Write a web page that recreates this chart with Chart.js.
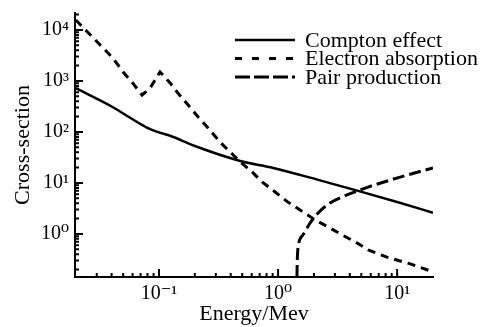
<!DOCTYPE html>
<html>
<head>
<meta charset="utf-8">
<script src="https://cdn.jsdelivr.net/npm/chart.js@4/dist/chart.umd.min.js"></script>
<style>
  html, body { margin: 0; padding: 0; background: #fff; }
  #wrap { width: 481px; height: 327px; }
</style>
</head>
<body>
<div id="wrap"><canvas id="myChart"></canvas></div>
<script>
// data (energy in MeV, cross-section)
var comptonE = [0.02, 0.041, 0.06, 0.079, 0.1, 0.124, 0.2, 0.48, 0.91, 2.17, 4.7, 10, 20];
var comptonV = [720, 305, 177, 122, 98, 84, 53, 27, 19.7, 11.5, 7, 4.24, 2.6];

var electronE = [0.02, 0.041, 0.05, 0.06, 0.072, 0.084, 0.102, 0.124, 0.144, 0.175, 0.213, 0.258, 0.326, 0.395, 0.48, 0.605, 0.734, 0.94, 1.21, 1.53, 2.05, 2.63, 3.45, 4.44, 5.7, 8.2, 12.9, 20];
var electronV = [15700, 2810, 1500, 915, 530, 720, 1500, 915, 580, 340, 197, 120, 63, 40.6, 26, 16.4, 10.5, 6.7, 4.2, 2.96, 1.88, 1.37, 0.955, 0.7, 0.486, 0.35, 0.258, 0.18];

var pairE = [1.44, 1.45, 1.47, 1.62, 1.86, 2.17, 2.73, 3.45, 4.44, 5.7, 10.6, 20];
var pairV = [0.143, 0.31, 0.53, 0.96, 1.64, 2.58, 4.05, 5.3, 6.7, 8.3, 13, 19.7];

var seriesNames = ["Compton effect", "Electron absorption", "Pair production"];
var xTickLabels = {"0.1": "10\u207B\u00B9", "1": "10\u2070", "10": "10\u00B9"};
var yTickLabels = {"1": "10\u2070", "10": "10\u00B9", "100": "10\u00B2", "1000": "10\u00B3", "10000": "10\u2074"};

function toPoints(xs, ys) {
  var pts = [];
  for (var i = 0; i < xs.length; i++) pts.push({ x: xs[i], y: ys[i] });
  return pts;
}

var serif = "'Liberation Serif', 'DejaVu Serif', serif";

// ticks drawn inward like the original figure (1..9 x 10^n)
var inwardTicks = {
  id: "inwardTicks",
  afterDraw: function (chart) {
    var c = chart.ctx;
    var area = chart.chartArea;
    c.save();
    c.setLineDash([]);
    c.strokeStyle = "#000";
    c.lineWidth = 2;
    c.beginPath();
    ["x", "y"].forEach(function (id) {
      var scale = chart.scales[id];
      var lo = Math.log10(scale.min), hi = Math.log10(scale.max);
      for (var e = Math.floor(lo); e <= Math.ceil(hi); e++) {
        for (var s = 1; s <= 9; s++) {
          var lv = Math.log10(s) + e;
          if (lv <= lo + 0.01 || lv >= hi - 0.01) continue;
          var len = s === 1 ? 8 : 4;
          var p = scale.getPixelForValue(Math.pow(10, lv));
          if (id === "x") {
            c.moveTo(p, area.bottom);
            c.lineTo(p, area.bottom - len);
          } else {
            c.moveTo(area.left, p);
            c.lineTo(area.left + len, p);
          }
        }
      }
    });
    c.stroke();
    c.restore();
  }
};

// legend in the upper right, like the figure
var lineLegend = {
  id: "lineLegend",
  afterDraw: function (chart) {
    var c = chart.ctx;
    c.save();
    chart.data.datasets.forEach(function (ds, i) {
      var y = 40 + i * 18.5;
      c.strokeStyle = "#000";
      c.lineWidth = ds.borderWidth;
      c.setLineDash(ds.legendDash);
      c.beginPath();
      c.moveTo(235, y);
      c.lineTo(295, y);
      c.stroke();
      c.setLineDash([]);
      c.fillStyle = "#000";
      c.font = "22px " + serif;
      c.textBaseline = "middle";
      c.fillText(ds.label, 305, y + 1);
    });
    c.restore();
  }
};

var ctx = document.getElementById("myChart").getContext("2d");
var myChart = new Chart(ctx, {
  type: "line",
  data: {
    datasets: [
      {
        label: seriesNames[0],
        data: toPoints(comptonE, comptonV),
        borderColor: "#000",
        borderWidth: 2.5,
        cubicInterpolationMode: "monotone",
        legendDash: [],
      },
      {
        label: seriesNames[1],
        data: toPoints(electronE, electronV),
        borderColor: "#000",
        borderWidth: 3,
        borderDash: [8, 6],
        tension: 0,
        legendDash: [7, 10],
      },
      {
        label: seriesNames[2],
        data: toPoints(pairE, pairV),
        borderColor: "#000",
        borderWidth: 3,
        borderDash: [12, 5],
        cubicInterpolationMode: "monotone",
        legendDash: [15, 4],
      },
    ],
  },
  options: {
    responsive: true,
    maintainAspectRatio: false,
    animation: false,
    layout: { padding: { top: 13, right: 48, left: 0, bottom: 0 } },
    elements: {
      point: { radius: 0 },
      line: { fill: false },
    },
    plugins: {
      legend: { display: false },
      tooltip: { enabled: false },
    },
    scales: {
      x: {
        type: "logarithmic",
        min: 0.0197,
        max: 20,
        grid: { display: true, drawOnChartArea: false, drawTicks: false },
        border: { display: true, color: "#000", width: 2 },
        ticks: {
          autoSkip: false,
          maxRotation: 0,
          padding: 5,
          color: "#000",
          font: { family: serif, size: 20 },
          callback: function (v) {
            var key = String(Math.round(v * 1000) / 1000);
            return xTickLabels[key] || "";
          },
        },
        title: {
          display: true,
          text: "Energy/Mev",
          color: "#000",
          font: { family: serif, size: 22 },
          padding: { top: 0, bottom: 0 },
        },
        afterFit: function (scale) {
          scale.height = 50;
          scale.paddingLeft = 0;
          scale.paddingRight = 0;
        },
      },
      y: {
        type: "logarithmic",
        min: 0.143,
        max: 21500,
        grid: { display: true, drawOnChartArea: false, drawTicks: false },
        border: { display: true, color: "#000", width: 2 },
        ticks: {
          autoSkip: false,
          padding: 6,
          color: "#000",
          font: { family: serif, size: 20 },
          callback: function (v) {
            var key = String(Math.round(v * 1000) / 1000);
            return yTickLabels[key] || "";
          },
        },
        title: {
          display: true,
          text: "Cross-section",
          color: "#000",
          font: { family: serif, size: 22 },
          padding: { top: 10, bottom: 0 },
        },
        afterFit: function (scale) {
          scale.width = 75;
          scale.paddingTop = 0;
          scale.paddingBottom = 0;
        },
      },
    },
  },
  plugins: [inwardTicks, lineLegend],
});
</script>
</body>
</html>
